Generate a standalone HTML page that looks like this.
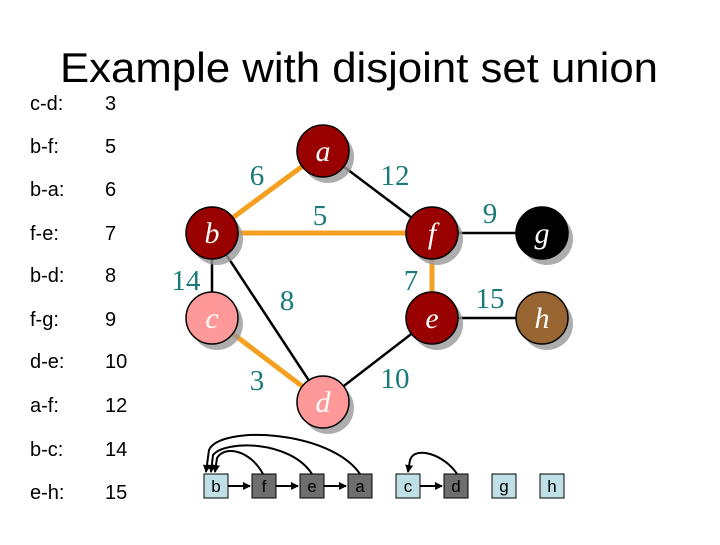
<!DOCTYPE html><html><head><style>body{margin:0;background:#fff;width:720px;height:540px;overflow:hidden}</style></head><body>
<svg width="720" height="540" xmlns="http://www.w3.org/2000/svg">
<defs><marker id="ar" markerWidth="8" markerHeight="8" refX="7" refY="4" orient="auto" markerUnits="userSpaceOnUse"><path d="M0,0 L8,4 L0,8z" fill="#000"/></marker></defs>
<text x="60" y="82" font-family="Liberation Sans,sans-serif" font-size="42" textLength="598" lengthAdjust="spacingAndGlyphs">Example with disjoint set union</text>
<g font-family="Liberation Sans,sans-serif" font-size="20">
<text x="30" y="110">c-d:</text><text x="105" y="110">3</text>
<text x="30" y="153">b-f:</text><text x="105" y="153">5</text>
<text x="30" y="196">b-a:</text><text x="105" y="196">6</text>
<text x="30" y="240">f-e:</text><text x="105" y="240">7</text>
<text x="30" y="282">b-d:</text><text x="105" y="282">8</text>
<text x="30" y="326">f-g:</text><text x="105" y="326">9</text>
<text x="30" y="368">d-e:</text><text x="105" y="368">10</text>
<text x="30" y="412">a-f:</text><text x="105" y="412">12</text>
<text x="30" y="456">b-c:</text><text x="105" y="456">14</text>
<text x="30" y="499">e-h:</text><text x="105" y="499">15</text>
</g>
<g stroke="#000" stroke-width="2.5">
<line x1="323" y1="151" x2="432" y2="233"/><line x1="432" y1="233" x2="542" y2="233"/>
<line x1="212" y1="233" x2="212" y2="318"/><line x1="212" y1="233" x2="323" y2="402"/>
<line x1="323" y1="402" x2="432" y2="318"/><line x1="432" y1="318" x2="542" y2="318"/>
</g>
<g stroke="#f5a020" stroke-width="5">
<line x1="212" y1="233" x2="323" y2="151"/><line x1="212" y1="233" x2="432" y2="233"/>
<line x1="432" y1="233" x2="432" y2="318"/><line x1="212" y1="318" x2="323" y2="402"/>
</g>
<g fill="#999" opacity="0.8">
<circle cx="328" cy="157" r="26"/><circle cx="217" cy="239" r="26"/><circle cx="437" cy="239" r="26"/><circle cx="547" cy="239" r="26"/>
<circle cx="217" cy="324" r="26"/><circle cx="437" cy="324" r="26"/><circle cx="547" cy="324" r="26"/><circle cx="328" cy="408" r="26"/>
</g>
<g stroke="#000" stroke-width="1.5">
<circle cx="323" cy="151" r="26" fill="#990000"/><circle cx="212" cy="233" r="26" fill="#990000"/>
<circle cx="432" cy="233" r="26" fill="#990000"/><circle cx="542" cy="233" r="26" fill="#000"/>
<circle cx="212" cy="318" r="26" fill="#ff9999"/><circle cx="432" cy="318" r="26" fill="#990000"/>
<circle cx="542" cy="318" r="26" fill="#996633"/><circle cx="323" cy="402" r="26" fill="#ff9999"/>
</g>
<g font-family="Liberation Serif,serif" font-style="italic" font-size="30" fill="#fff" text-anchor="middle">
<text x="323" y="161">a</text><text x="212" y="243">b</text><text x="432" y="243">f</text><text x="542" y="243">g</text>
<text x="212" y="328">c</text><text x="432" y="328">e</text><text x="542" y="328">h</text><text x="323" y="412">d</text>
</g>
<g font-family="Liberation Serif,serif" font-size="29" fill="#1a7a7a" text-anchor="middle">
<text x="257" y="185">6</text><text x="395" y="185">12</text><text x="320" y="225">5</text><text x="490" y="223">9</text>
<text x="186" y="290">14</text><text x="411" y="290">7</text><text x="287" y="310">8</text><text x="490" y="308">15</text>
<text x="257" y="390">3</text><text x="395" y="388">10</text>
</g>
<g stroke="#000" stroke-width="2" fill="none">
<path d="M263,474 C250,450 225,445 217,458 L215,472" marker-end="url(#ar)"/>
<path d="M312,474 C290,440 225,440 213,455 L211,472" marker-end="url(#ar)"/>
<path d="M360,474 C330,430 220,425 209,450 L206,472" marker-end="url(#ar)"/>
<path d="M457,474 C445,455 415,445 410,460 L408,472" marker-end="url(#ar)"/>
<path d="M228,486 L250,486" marker-end="url(#ar)"/><path d="M276,486 L298,486" marker-end="url(#ar)"/>
<path d="M324,486 L346,486" marker-end="url(#ar)"/><path d="M420,486 L442,486" marker-end="url(#ar)"/>
</g>
<g stroke="#000" stroke-width="1">
<rect x="204" y="474" width="24" height="24" fill="#bfe0e6"/><rect x="252" y="474" width="24" height="24" fill="#6e6e6e"/>
<rect x="300" y="474" width="24" height="24" fill="#6e6e6e"/><rect x="348" y="474" width="24" height="24" fill="#6e6e6e"/>
<rect x="396" y="474" width="24" height="24" fill="#bfe0e6"/><rect x="444" y="474" width="24" height="24" fill="#6e6e6e"/>
<rect x="492" y="474" width="24" height="24" fill="#bfe0e6"/><rect x="540" y="474" width="24" height="24" fill="#bfe0e6"/>
</g>
<g font-family="Liberation Sans,sans-serif" font-size="17" text-anchor="middle">
<text x="216" y="492">b</text><text x="264" y="492">f</text><text x="312" y="492">e</text><text x="360" y="492">a</text>
<text x="408" y="492">c</text><text x="456" y="492">d</text><text x="504" y="492">g</text><text x="552" y="492">h</text>
</g>
</svg></body></html>
